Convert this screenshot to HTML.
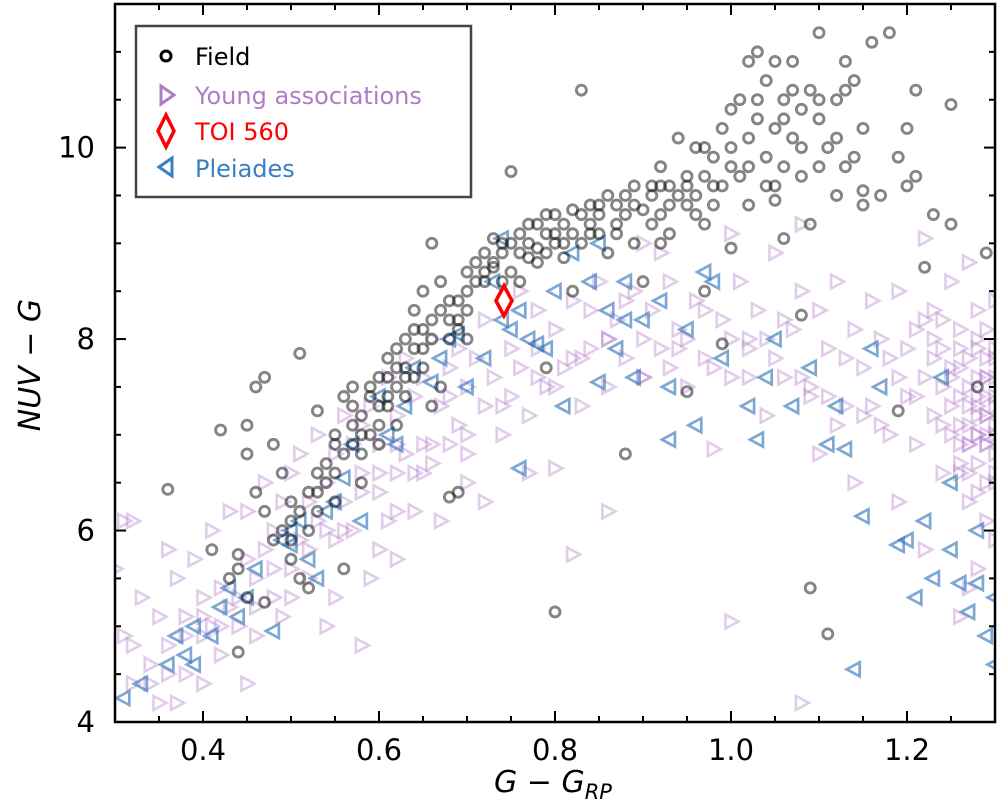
<!DOCTYPE html>
<html><head><meta charset="utf-8"><style>
body{margin:0;background:#fff;}
svg{display:block;font-family:"DejaVu Sans","Liberation Sans",sans-serif;}
</style></head><body>
<svg id="chart" width="1000" height="807" viewBox="0 0 1000 807">
<defs><clipPath id="clip"><rect x="115" y="4" width="880" height="718"/></clipPath></defs>
<g id="marks" clip-path="url(#clip)"></g>
<g id="axes"></g>
<g>
<rect x="136" y="26" width="335" height="171" fill="#fff" stroke="#444" stroke-width="2.5"/>
<g>
<circle cx="166" cy="56" r="5" fill="none" stroke="#000" stroke-width="3"/>
<text x="195" y="65" font-size="24" fill="#000">Field</text></g>
<g>
<path d="M161,86 L174,95 L161,104 Z" fill="none" stroke="#b07cc6" stroke-width="3"/>
<text x="195" y="104" font-size="24" fill="#b07cc6">Young associations</text></g>
<g>
<path d="M166,115 L174,131 L166,147 L158,131 Z" fill="none" stroke="#ff0000" stroke-width="3.5"/>
<text x="195" y="140" font-size="24" fill="#ff0000">TOI 560</text></g>
<g>
<path d="M172,158 L159,167 L172,176 Z" fill="none" stroke="#3a7fc0" stroke-width="3"/>
<text x="195" y="177" font-size="24" fill="#3a7fc0">Pleiades</text></g>
</g>
<text x="553" y="792" font-size="30" text-anchor="middle"><tspan font-style="italic">G</tspan> − <tspan font-style="italic">G</tspan><tspan font-style="italic" font-size="21" dy="7">RP</tspan></text>
<text transform="translate(40,365) rotate(-90)" font-size="30" text-anchor="middle"><tspan font-style="italic">NUV</tspan> − <tspan font-style="italic">G</tspan></text>
</svg>
<script>
const fieldX=[0.36,0.41,0.42,0.44,0.44,0.44,0.45,0.45,0.45,0.46,0.46,0.47,0.47,0.48,0.48,0.49,0.5,0.5,0.5,0.51,0.51,0.52,0.52,0.53,0.53,0.53,0.54,0.54,0.55,0.55,0.55,0.56,0.56,0.56,0.57,0.57,0.57,0.58,0.58,0.59,0.59,0.59,0.6,0.6,0.6,0.61,0.61,0.61,0.62,0.62,0.62,0.63,0.63,0.63,0.64,0.64,0.64,0.65,0.65,0.65,0.66,0.66,0.67,0.67,0.67,0.68,0.68,0.68,0.69,0.69,0.69,0.7,0.7,0.7,0.71,0.71,0.72,0.72,0.73,0.73,0.74,0.74,0.75,0.75,0.75,0.76,0.76,0.77,0.77,0.78,0.78,0.79,0.79,0.8,0.8,0.8,0.81,0.81,0.82,0.82,0.83,0.83,0.84,0.84,0.85,0.85,0.86,0.86,0.87,0.87,0.88,0.88,0.89,0.89,0.9,0.9,0.91,0.91,0.92,0.92,0.93,0.93,0.94,0.94,0.95,0.95,0.96,0.96,0.97,0.97,0.98,0.98,0.99,0.99,1.0,1.0,1.0,1.01,1.01,1.02,1.02,1.03,1.03,1.04,1.04,1.05,1.05,1.06,1.06,1.07,1.07,1.08,1.08,1.09,1.09,1.1,1.1,1.11,1.11,1.12,1.12,1.13,1.13,1.14,1.14,1.15,1.15,1.16,1.17,1.18,1.19,1.2,1.2,1.21,1.21,1.22,1.23,1.25,1.25,1.28,1.29,1.09,1.08,0.99,0.95,1.05,1.1,1.02,0.97,0.92,0.82,0.76,0.79,0.66,0.63,0.58,0.52,0.49,0.43,0.47,1.19,1.15,1.06,0.57,0.6,0.62,0.64,0.66,0.68,0.7,0.72,0.74,0.77,0.79,0.81,0.83,0.85,0.87,0.89,0.91,0.93,0.95,0.96,0.98,1.0,1.02,1.03,1.04,1.06,1.08,1.1,1.12,1.13,1.07,1.05,0.97,0.92,0.88,0.84,0.8,0.78,0.73,0.69,0.65,0.61,0.58,0.55,0.53,0.51,0.5];
const fieldY=[6.43,5.8,7.05,5.75,4.73,5.6,6.8,7.1,5.3,7.5,6.4,7.6,6.2,6.9,5.9,6.6,6.1,5.7,6.3,7.85,5.5,5.4,6.0,7.25,6.6,6.2,6.7,6.5,6.9,7.0,6.3,7.4,6.8,5.6,7.1,6.9,7.5,7.2,6.5,7.4,7.0,7.5,7.3,7.1,6.9,7.6,7.3,7.8,7.5,7.9,7.1,7.7,8.0,7.4,7.9,8.3,7.6,8.1,7.7,8.5,8.0,7.3,8.3,8.6,7.5,8.2,8.0,6.35,8.4,8.1,6.4,8.5,8.3,8.0,8.6,8.8,8.7,8.9,8.8,9.05,8.9,8.6,9.0,9.75,8.7,8.9,9.1,8.85,9.0,9.2,8.8,9.1,8.9,9.3,9.0,5.15,9.2,8.85,9.1,9.35,10.6,9.0,9.2,9.4,9.1,9.3,9.5,8.9,9.2,9.4,9.3,6.8,9.0,9.6,9.35,8.6,9.5,9.2,9.8,9.3,9.6,9.1,9.5,10.1,9.4,9.7,9.5,10.0,9.7,8.5,9.9,9.4,10.2,9.6,10.4,9.8,8.95,10.5,9.7,10.1,9.4,10.3,11.0,9.9,10.7,10.2,9.6,10.5,9.8,10.1,10.9,10.4,9.7,10.6,9.2,10.3,9.8,10.0,4.92,10.5,9.5,9.8,10.9,10.7,9.9,10.2,9.4,11.1,9.5,11.2,9.9,10.2,9.6,9.7,10.6,8.75,9.3,10.45,9.2,7.5,8.9,5.4,8.25,7.95,7.45,9.45,11.2,10.9,9.2,9.0,8.5,8.6,7.7,9.0,7.6,6.8,6.4,6.0,5.5,5.25,7.25,9.55,9.05,7.3,7.6,7.7,8.1,8.2,8.4,8.7,8.6,9.0,9.2,9.3,9.0,9.3,9.4,9.1,9.4,9.6,9.4,9.6,9.3,9.6,10.0,9.8,10.5,9.6,10.3,10.0,10.5,10.1,10.6,10.6,10.9,10.0,9.6,9.5,9.1,9.1,8.95,8.75,8.2,7.9,7.4,7.0,6.6,6.4,6.2,5.9];
const youngX=[0.31,0.32,0.3,0.31,0.32,0.33,0.34,0.35,0.36,0.36,0.37,0.37,0.38,0.38,0.39,0.4,0.4,0.41,0.41,0.42,0.42,0.43,0.43,0.44,0.45,0.45,0.46,0.46,0.47,0.47,0.48,0.48,0.49,0.49,0.5,0.5,0.51,0.51,0.52,0.52,0.53,0.53,0.54,0.54,0.55,0.55,0.56,0.56,0.57,0.57,0.58,0.58,0.59,0.59,0.6,0.6,0.61,0.61,0.62,0.62,0.63,0.63,0.64,0.64,0.65,0.65,0.66,0.66,0.67,0.67,0.68,0.68,0.69,0.69,0.7,0.7,0.71,0.72,0.72,0.73,0.74,0.75,0.75,0.76,0.77,0.78,0.78,0.79,0.8,0.8,0.81,0.82,0.82,0.83,0.84,0.85,0.86,0.86,0.87,0.88,0.89,0.9,0.91,0.92,0.93,0.94,0.95,0.96,0.97,0.98,0.99,1.0,1.0,1.01,1.02,1.03,1.04,1.05,1.06,1.07,1.08,1.08,1.09,1.1,1.1,1.11,1.12,1.13,1.14,1.14,1.15,1.16,1.17,1.18,1.19,1.19,1.2,1.21,1.21,1.22,1.22,1.23,1.23,1.24,1.24,1.25,1.25,1.26,1.26,1.26,1.27,1.27,1.27,1.27,1.28,1.28,1.28,1.28,1.29,1.29,1.29,1.29,1.29,1.3,1.3,1.3,1.3,1.3,1.28,1.27,1.26,1.25,1.24,1.3,1.29,1.28,1.27,1.22,1.26,0.9,0.92,1.08,1.0,0.7,0.65,0.55,0.45,0.4,0.35,0.58,0.62,0.72,0.77,0.62,0.6,1.29,1.28,1.27,1.3,1.26,1.25,1.29,1.28,1.3,1.24,1.23,1.27,1.29,1.3,1.28,1.26,1.21,1.18,1.15,1.12,1.09,1.05,1.02,0.98,0.94,0.9,0.86,0.83,1.27,1.28,1.29,1.3,1.26,1.25,1.27,1.28,1.29,1.3,1.3,1.29,1.28,1.26,1.24,1.23,1.22,1.2,1.19,1.17,1.16,1.13,1.11,1.08,1.06,1.04,1.02,1.0,0.97,0.95,0.93,0.9,0.88,0.86,0.84,0.82,0.8,0.78,0.76,0.74,0.7,0.68,0.66,0.64,0.62,0.6,0.58,0.56,0.54,0.52,0.5,0.48,0.46,0.44,0.42,0.4,0.38,0.36,0.34,0.32];
const youngY=[6.1,6.1,5.6,4.9,4.4,5.3,4.6,5.1,4.8,5.8,4.2,5.5,5.1,4.5,5.7,4.9,5.3,5.0,6.0,5.4,4.7,6.2,5.2,5.0,6.2,5.7,5.5,4.9,6.5,5.8,5.3,6.0,6.3,5.1,6.6,5.6,5.9,6.8,6.3,5.5,7.0,6.1,6.5,5.0,6.8,5.9,7.2,6.3,6.0,6.9,7.1,6.4,5.5,7.3,6.9,6.4,7.6,6.1,7.2,6.6,7.8,6.8,7.4,6.2,6.9,7.6,6.7,8.0,7.3,6.1,7.7,6.9,7.1,7.9,6.5,7.5,7.8,7.3,8.2,7.6,7.0,7.9,7.4,8.5,7.2,7.9,8.3,7.5,8.1,6.65,7.7,8.4,5.75,7.3,7.9,8.6,7.5,6.2,8.2,7.8,8.5,7.6,8.3,7.9,8.6,8.1,7.5,8.4,7.8,6.85,8.2,7.6,5.05,8.6,7.9,8.3,7.2,8.9,7.6,8.1,8.5,4.2,7.5,8.3,6.8,7.9,8.6,7.3,8.1,6.5,7.7,8.4,7.1,7.8,8.5,6.3,7.4,8.1,6.9,7.6,9.05,7.2,8.3,6.6,7.9,7.3,8.6,6.9,7.7,8.1,7.1,7.5,8.8,6.3,7.9,7.2,6.7,8.3,7.4,7.0,7.8,6.1,8.1,7.3,6.8,7.6,5.9,7.1,7.6,7.3,7.4,7.0,7.5,8.4,6.5,5.6,5.4,5.8,5.1,9.0,8.9,9.2,9.1,6.8,6.6,5.3,4.4,4.4,4.2,4.8,5.7,6.3,6.6,6.2,5.8,7.2,7.0,6.9,7.8,7.9,7.7,7.6,8.0,7.0,8.2,8.0,6.6,6.9,6.6,7.3,6.6,7.4,7.0,7.2,7.1,7.4,7.8,8.0,7.7,7.9,7.6,8.0,7.8,7.8,7.4,7.6,7.9,7.1,7.6,6.9,6.4,6.9,6.5,7.4,7.2,7.0,6.7,7.1,7.8,8.2,7.9,7.6,8.0,7.3,7.8,7.4,7.6,8.2,8.0,7.6,8.0,8.3,8.0,7.7,8.0,8.4,8.0,8.3,7.8,7.5,7.6,7.7,7.3,7.0,7.4,6.9,6.6,6.9,6.6,6.6,6.0,6.0,5.8,5.3,5.6,5.2,5.3,5.0,5.1,4.9,4.5,4.4,4.8];
const pleiadesX=[0.31,0.33,0.36,0.37,0.38,0.39,0.39,0.41,0.42,0.43,0.44,0.45,0.46,0.48,0.49,0.5,0.5,0.51,0.52,0.53,0.54,0.55,0.56,0.57,0.58,0.6,0.61,0.62,0.63,0.64,0.66,0.67,0.68,0.69,0.7,0.72,0.73,0.74,0.75,0.76,0.77,0.78,0.8,0.81,0.82,0.84,0.85,0.85,0.86,0.87,0.88,0.89,0.9,0.92,0.93,0.93,0.95,0.96,0.97,0.99,1.02,1.03,1.04,1.05,1.07,1.09,1.11,1.12,1.13,1.14,1.15,1.16,1.17,1.19,1.2,1.21,1.22,1.23,1.24,1.25,1.26,1.27,1.28,1.29,1.3,1.3,1.28,1.25,0.79,0.76,0.74,0.88,0.98];
const pleiadesY=[4.25,4.4,4.6,4.9,4.7,4.6,5.0,4.9,5.2,5.4,5.1,5.3,5.6,4.95,5.9,6.0,5.85,6.1,5.7,5.5,6.2,6.3,6.55,6.9,6.1,7.4,7.0,6.9,7.3,7.7,7.55,7.8,8.0,8.05,7.5,7.8,8.6,8.2,8.1,8.3,8.0,7.95,8.5,7.3,8.9,8.6,9.0,7.55,8.3,7.9,8.6,7.6,8.2,8.4,7.5,6.95,8.1,7.1,8.7,7.8,7.3,6.95,7.6,8.0,7.3,7.7,6.9,7.3,6.85,4.55,6.15,7.9,7.5,5.85,5.9,5.3,6.1,5.5,7.6,5.8,5.45,5.15,5.45,4.9,4.6,5.3,6.0,6.5,7.9,6.65,9.05,8.2,8.6];
const toiX=[0.742];
const toiY=[8.4];
const xTicks=[0.4,0.6,0.8,1.0,1.2];
const xTickLabels=["0.4","0.6","0.8","1.0","1.2"];
const yTicks=[4,6,8,10];
const yTickLabels=["4","6","8","10"];

const X0=115,X1=995,Y0=722,Y1=4,XMIN=0.3,XMAX=1.3,YMIN=4,YMAX=11.5;
function sx(v){return X0+(v-XMIN)/(XMAX-XMIN)*(X1-X0);}
function sy(v){return Y0-(v-YMIN)/(YMAX-YMIN)*(Y0-Y1);}
const NS="http://www.w3.org/2000/svg";
const marks=document.getElementById('marks');
const axes=document.getElementById('axes');
function mk(tag,attrs,parent){const e=document.createElementNS(NS,tag);for(const k in attrs)e.setAttribute(k,attrs[k]);parent.appendChild(e);return e;}

youngX.forEach((v,i)=>{const x=sx(v),y=sy(youngY[i]);
 const p=mk('path',{d:`M${x-5.5},${y-7} L${x+7.5},${y} L${x-5.5},${y+7} Z`,fill:'none',stroke:'rgba(176,120,200,0.38)','stroke-width':2.6},marks);
 
 });
pleiadesX.forEach((v,i)=>{const x=sx(v),y=sy(pleiadesY[i]);
 const p=mk('path',{d:`M${x+5.5},${y-7} L${x-7.5},${y} L${x+5.5},${y+7} Z`,fill:'none',stroke:'rgba(45,115,185,0.62)','stroke-width':2.7},marks);
 
 });
fieldX.forEach((v,i)=>{
 const c=mk('circle',{cx:sx(v),cy:sy(fieldY[i]),r:5,fill:'none',stroke:'rgba(0,0,0,0.48)','stroke-width':2.9},marks);
 
 });
toiX.forEach((v,i)=>{const x=sx(v),y=sy(toiY[i]);
 const d=mk('path',{d:`M${x},${y-15} L${x+8},${y} L${x},${y+15} L${x-8},${y} Z`,fill:'none',stroke:'#ff0000','stroke-width':3.6},marks);
 
 });

const frame=mk('rect',{x:X0,y:Y1,width:X1-X0,height:Y0-Y1,fill:'none',stroke:'#000','stroke-width':2.5},axes);


for(let k=0;k<=20;k++){const x=sx(0.3+k*0.05);
 const L=(k%4===2)?11:6;
 mk('line',{x1:x,x2:x,y1:Y0,y2:Y0-L,stroke:'#000','stroke-width':2},axes);
 mk('line',{x1:x,x2:x,y1:Y1,y2:Y1+L,stroke:'#000','stroke-width':2},axes);}
for(let k=0;k<=15;k++){const y=sy(4+k*0.5);const L=(k%4===0)?11:6;
 mk('line',{x1:X0,x2:X0+L,y1:y,y2:y,stroke:'#000','stroke-width':2},axes);
 mk('line',{x1:X1,x2:X1-L,y1:y,y2:y,stroke:'#000','stroke-width':2},axes);}
xTicks.forEach((v,i)=>{const t=mk('text',{x:sx(v),y:Y0+38,'font-size':29,'text-anchor':'middle'},axes);t.textContent=xTickLabels[i];
 
 });
yTicks.forEach((v,i)=>{const t=mk('text',{x:X0-20,y:sy(v)+10,'font-size':29,'text-anchor':'end'},axes);t.textContent=yTickLabels[i];
 
 });
</script>
</body></html>
